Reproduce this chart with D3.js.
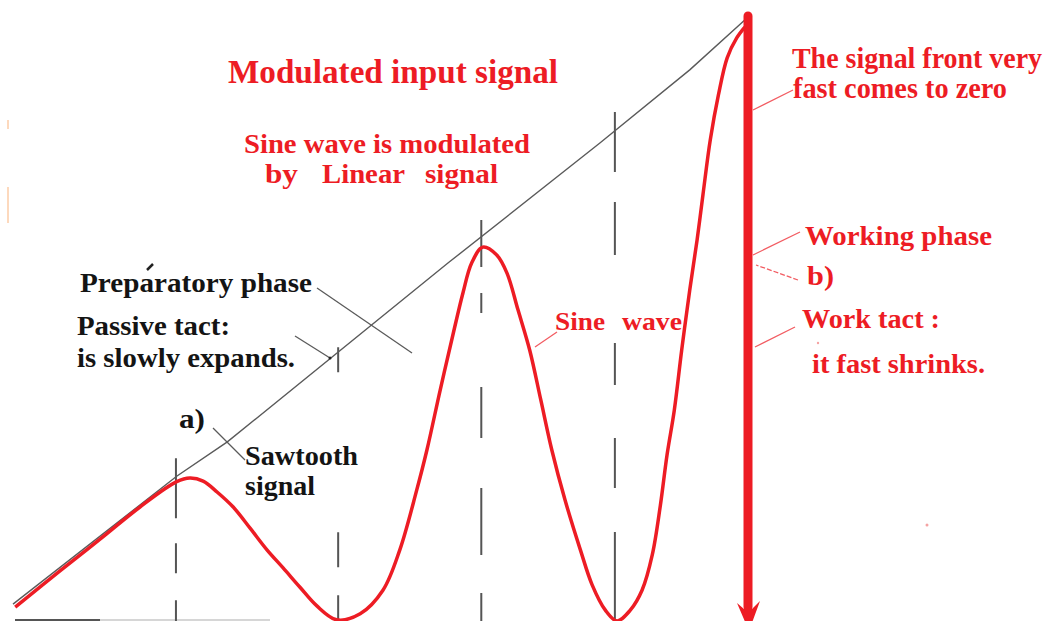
<!DOCTYPE html>
<html>
<head>
<meta charset="utf-8">
<script src="https://cdn.jsdelivr.net/npm/d3@7"></script>
<style>
  body { margin: 0; background: #fff; overflow: hidden; }
  svg { display: block; }
  text { font-family: "Liberation Serif", "Times New Roman", serif; font-weight: bold; }
</style>
</head>
<body>
<div id="chart"></div>
<script>
// time runs 0..100, amplitude 0..100 (arbitrary units)

// sawtooth (linear modulating) signal
var sawTime = [0, 22.3, 29.2, 59.3, 80.0, 92.2, 100];
var sawAmp  = [2.8, 24.0, 29.7, 59.4, 79.3, 91.4, 100];

// sine wave modulated by the linear signal
var sineTime = [0.3, 6.4, 11.9, 17.3, 22.3, 24.1, 25.9, 27.8, 30.0, 32.3, 34.6, 36.8, 39.1, 41.4, 44.1,
                47.3, 50.4, 52.7, 55.0, 56.4, 58.2, 60.0, 61.3, 62.5, 64.0,
                65.9, 67.3, 68.8, 70.4, 71.9, 73.4, 75.2, 77.3, 78.9, 80.7, 82.3,
                84.1, 85.7, 87.1, 88.2, 89.1, 90.1, 91.1, 92.2, 93.2, 94.0, 95.0, 96.1, 97.3, 98.6, 99.7];
var sineAmp  = [2.3, 8.3, 13.6, 18.9, 23.1, 23.7, 23.2, 21.4, 18.9, 15.4, 11.8, 8.8, 5.6, 2.5, 0.2,
                1.2, 5.1, 11.8, 21.7, 28.4, 38.3, 47.8, 54.4, 59.4, 62.0,
                60.7, 57.7, 51.6, 44.9, 36.7, 28.4, 20.1, 11.8, 6.0, 1.8, 0,
                1.8, 5.1, 11.0, 19.2, 27.5, 35.0, 44.9, 54.9, 63.2, 70.7, 79.8, 87.2, 93.4, 96.7, 98.5];

// dashed guides at the extremes of the sine wave
var guideTime = [22.2, 44.3, 63.8, 82.0];
var guideTop  = [27.0, 45.4, 66.5, 84.4];

// signal front: drops from the top to zero
var frontTime = 100;
var frontTop = 100;

var width = 1058;
var height = 621;

var x = d3.scaleLinear().domain([0, 100]).range([13, 747]);
var y = d3.scaleLinear().domain([0, 100]).range([621, 18]);

var red = "#ed1c24";
var guideDash = ["60,25,30,27,30", "25,160,35,28,30",
                 "47,26,20,74,51,50,67,38,30", "60,30,53,88,42,53,50,44,90"];

var svg = d3.select("#chart").append("svg")
  .attr("width", width)
  .attr("height", height);

// stray marks of the original drawing
svg.append("line").attr("x1", 8).attr("x2", 8).attr("y1", 120).attr("y2", 129)
  .attr("stroke", "#fdd9bd").attr("stroke-width", 2);
svg.append("line").attr("x1", 8).attr("x2", 8).attr("y1", 187).attr("y2", 223)
  .attr("stroke", "#fdd9bd").attr("stroke-width", 2);
svg.append("circle").attr("cx", 927).attr("cy", 525).attr("r", 1.5).attr("fill", "#f5a3a3");
svg.append("circle").attr("cx", 818).attr("cy", 343).attr("r", 1.2).attr("fill", "#f5a3a3");

// base line
svg.append("line")
  .attr("x1", x(0) + 2).attr("x2", 100).attr("y1", y(0) - 1).attr("y2", y(0) - 1)
  .attr("stroke", "#555").attr("stroke-width", 2);
svg.append("line")
  .attr("x1", 100).attr("x2", 270).attr("y1", y(0) - 1).attr("y2", y(0) - 1)
  .attr("stroke", "#c8c8c8").attr("stroke-width", 1.5);

// dashed guides
svg.selectAll(".guide")
  .data(guideTime)
.enter().append("line")
  .attr("class", "guide")
  .attr("x1", function(d) { return x(d); })
  .attr("x2", function(d) { return x(d); })
  .attr("y1", function(d, i) { return y(guideTop[i]); })
  .attr("y2", y(0))
  .attr("stroke", "#555")
  .attr("stroke-width", 2)
  .attr("stroke-dasharray", function(d, i) { return guideDash[i]; });

// sawtooth signal
var saw = sawTime.map(function(t, i) { return [t, sawAmp[i]]; });
svg.append("path")
  .datum(saw)
  .attr("fill", "none")
  .attr("stroke", "#5a5a5a")
  .attr("stroke-width", 1.4)
  .attr("d", d3.line().x(function(d) { return x(d[0]); }).y(function(d) { return y(d[1]); }));

// modulated sine wave
var sine = sineTime.map(function(t, i) { return [t, sineAmp[i]]; });
svg.append("path")
  .datum(sine)
  .attr("fill", "none")
  .attr("stroke", red)
  .attr("stroke-width", 3.5)
  .attr("stroke-linejoin", "round")
  .attr("d", d3.line().curve(d3.curveCatmullRom)
    .x(function(d) { return x(d[0]); }).y(function(d) { return y(d[1]); }));

// signal front arrow
var ax = x(frontTime) + 1;
svg.append("line")
  .attr("x1", ax).attr("x2", ax)
  .attr("y1", y(frontTop) - 2).attr("y2", y(0) - 14)
  .attr("stroke", red)
  .attr("stroke-width", 9)
  .attr("stroke-linecap", "round");
svg.append("path")
  .attr("d", "M" + (ax - 11) + "," + (y(0) - 18) + " L" + (ax - 4) + "," + (y(0) - 12)
    + " L" + (ax + 4) + "," + (y(0) - 12) + " L" + (ax + 12) + "," + (y(0) - 20)
    + " L" + (ax + 1) + "," + (y(0) + 10) + "Z")
  .attr("fill", red);

// leader lines
var leaders = [
  {p: [[793, 90], [ax + 5, 110]], c: "#f25c62"},
  {p: [[800, 232], [ax + 5, 255]], c: "#f25c62"},
  {p: [[798, 280], [ax + 8, 265]], c: "#f25c62", dash: "5,2"},
  {p: [[795, 327], [ax + 7, 347]], c: "#f25c62"},
  {p: [[557, 332], [535, 347]], c: "#f25c62"},
  {p: [[317, 288], [412, 353]], c: "#5a5a5a"},
  {p: [[295, 336], [330, 358]], c: "#5a5a5a"},
  {p: [[213, 428], [245, 460]], c: "#5a5a5a"}
];
svg.selectAll(".leader")
  .data(leaders)
.enter().append("line")
  .attr("class", "leader")
  .attr("x1", function(d) { return d.p[0][0]; })
  .attr("y1", function(d) { return d.p[0][1]; })
  .attr("x2", function(d) { return d.p[1][0]; })
  .attr("y2", function(d) { return d.p[1][1]; })
  .attr("stroke", function(d) { return d.c; })
  .attr("stroke-width", 1.3)
  .attr("stroke-dasharray", function(d) { return d.dash || null; });
svg.append("circle").attr("cx", 330).attr("cy", 358).attr("r", 1.5).attr("fill", "#222");
svg.append("line").attr("x1", 147).attr("y1", 270).attr("x2", 153).attr("y2", 264)
  .attr("stroke", "#222").attr("stroke-width", 2.5);

// labels
var labels = [
  {t: "Modulated input signal", x: 228, y: 83, w: 330, s: 33, c: red},
  {t: "Sine wave is modulated", x: 244, y: 153, w: 286, s: 27, c: red},
  {t: "by", x: 265, y: 183, w: 33, s: 27, c: red},
  {t: "Linear", x: 322, y: 183, w: 83, s: 27, c: red},
  {t: "signal", x: 425, y: 183, w: 73, s: 27, c: red},
  {t: "The signal front very", x: 792, y: 68, w: 250, s: 29, c: red},
  {t: "fast comes to zero", x: 793, y: 98, w: 214, s: 30, c: red},
  {t: "Working phase", x: 805, y: 245, w: 187, s: 27, c: red},
  {t: "b)", x: 807, y: 285, w: 27, s: 27, c: red},
  {t: "Work tact :", x: 802, y: 328, w: 138, s: 27, c: red},
  {t: "it fast shrinks.", x: 812, y: 373, w: 173, s: 27, c: red},
  {t: "Sine", x: 555, y: 330, w: 50, s: 26, c: red},
  {t: "wave", x: 622, y: 330, w: 60, s: 26, c: red},
  {t: "Preparatory phase", x: 80, y: 292, w: 232, s: 27, c: "#141414"},
  {t: "Passive tact:", x: 77, y: 335, w: 153, s: 27, c: "#141414"},
  {t: "is slowly expands.", x: 77, y: 367, w: 218, s: 27, c: "#141414"},
  {t: "a)", x: 179, y: 428, w: 26, s: 27, c: "#141414"},
  {t: "Sawtooth", x: 245, y: 465, w: 113, s: 27, c: "#141414"},
  {t: "signal", x: 245, y: 495, w: 70, s: 27, c: "#141414"}
];
svg.selectAll(".label")
  .data(labels)
.enter().append("text")
  .attr("class", "label")
  .attr("x", function(d) { return d.x; })
  .attr("y", function(d) { return d.y; })
  .attr("font-size", function(d) { return d.s; })
  .attr("fill", function(d) { return d.c; })
  .attr("textLength", function(d) { return d.w; })
  .attr("lengthAdjust", "spacingAndGlyphs")
  .text(function(d) { return d.t; });
</script>
</body>
</html>
